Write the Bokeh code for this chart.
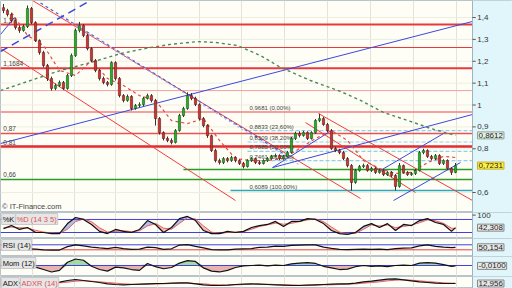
import numpy as np
from bokeh.plotting import figure
from bokeh.layouts import column
from bokeh.models import Range1d, FixedTicker, Label
from bokeh.core.properties import value
from bokeh.embed import file_html
from bokeh.resources import INLINE

FONT = "Liberation Sans"

# ---------------- data ----------------
opens = [1.445,1.432,1.414,1.386,1.354,1.341,1.359,1.441,1.377,1.295,
         1.240,1.181,1.121,1.076,1.089,1.103,1.076,1.135,1.226,1.341,
         1.363,1.318,1.258,1.203,1.158,1.121,1.103,1.094,1.194,1.121,
         1.043,1.021,1.039,0.984,0.998,1.002,1.030,1.043,1.021,0.938,
         0.874,0.847,0.838,0.829,0.883,0.952,0.984,1.043,1.030,1.002,
         0.938,0.906,0.860,0.792,0.746,0.737,0.755,0.746,0.760,0.746,
         0.733,0.719,0.746,0.755,0.737,0.733,0.746,0.755,0.765,0.769,
         0.755,0.765,0.783,0.847,0.870,0.861,0.874,0.847,0.874,0.929,
         0.938,0.911,0.883,0.801,0.792,0.783,0.755,0.723,0.646,0.701,
         0.719,0.723,0.701,0.710,0.692,0.701,0.682,0.692,0.678,0.628,
         0.723,0.692,0.682,0.687,0.701,0.783,0.792,0.765,0.755,0.769,
         0.733,0.746,0.710,0.692]
closes = [1.432,1.414,1.386,1.354,1.341,1.359,1.441,1.377,1.295,1.240,
          1.181,1.121,1.076,1.089,1.103,1.076,1.135,1.226,1.341,1.363,
          1.318,1.258,1.203,1.158,1.121,1.103,1.094,1.194,1.121,1.043,
          1.021,1.039,0.984,0.998,1.002,1.030,1.043,1.021,0.938,0.874,
          0.847,0.838,0.829,0.883,0.952,0.984,1.043,1.030,1.002,0.938,
          0.906,0.860,0.792,0.746,0.737,0.755,0.746,0.760,0.746,0.733,
          0.719,0.746,0.755,0.737,0.733,0.746,0.755,0.765,0.769,0.755,
          0.765,0.783,0.847,0.870,0.861,0.874,0.847,0.874,0.929,0.938,
          0.911,0.883,0.801,0.792,0.783,0.755,0.723,0.646,0.701,0.719,
          0.723,0.701,0.710,0.692,0.701,0.682,0.692,0.678,0.628,0.723,
          0.692,0.682,0.687,0.701,0.783,0.792,0.765,0.755,0.769,0.733,
          0.746,0.710,0.692,0.7231]
highs = [1.462,1.440,1.420,1.392,1.365,1.368,1.455,1.448,1.383,1.300,
         1.248,1.188,1.130,1.098,1.112,1.110,1.142,1.235,1.350,1.380,
         1.370,1.325,1.265,1.210,1.165,1.130,1.110,1.200,1.200,1.128,
         1.050,1.048,1.045,1.005,1.012,1.038,1.052,1.050,1.028,0.945,
         0.880,0.856,0.848,0.890,0.960,0.992,1.058,1.055,1.038,1.008,
         0.945,0.912,0.865,0.800,0.755,0.762,0.762,0.768,0.766,0.752,
         0.740,0.752,0.762,0.760,0.745,0.752,0.762,0.772,0.778,0.775,
         0.772,0.790,0.855,0.878,0.880,0.882,0.880,0.880,0.936,0.960,
         0.945,0.918,0.890,0.810,0.800,0.790,0.762,0.730,0.708,0.726,
         0.732,0.730,0.718,0.716,0.708,0.707,0.698,0.698,0.684,0.735,
         0.728,0.698,0.694,0.708,0.790,0.800,0.798,0.772,0.776,0.775,
         0.752,0.752,0.716,0.735]
lows = [1.420,1.405,1.378,1.345,1.330,1.335,1.352,1.370,1.288,1.230,
        1.172,1.110,1.066,1.068,1.082,1.068,1.070,1.128,1.220,1.332,
        1.310,1.250,1.195,1.150,1.112,1.095,1.085,1.088,1.112,1.035,
        1.012,1.015,0.975,0.978,0.990,0.995,1.025,1.012,0.906,0.865,
        0.838,0.830,0.820,0.824,0.878,0.945,0.978,1.022,0.995,0.930,
        0.898,0.850,0.785,0.738,0.728,0.730,0.738,0.740,0.738,0.726,
        0.710,0.714,0.740,0.730,0.726,0.728,0.740,0.750,0.760,0.748,
        0.750,0.760,0.778,0.840,0.852,0.855,0.840,0.842,0.868,0.922,
        0.905,0.875,0.795,0.785,0.775,0.748,0.715,0.609,0.640,0.695,
        0.712,0.695,0.694,0.685,0.686,0.675,0.676,0.670,0.609,0.622,
        0.686,0.676,0.676,0.680,0.696,0.775,0.758,0.748,0.748,0.726,
        0.726,0.704,0.680,0.688]

# long moving average (green dashed)
ma_x = [-0.75, 6.75, 14.25, 21.75, 29.25, 36.75, 41.75, 48.5, 53, 58.5,
        64.25, 69.25, 76.75, 84.25, 89.25, 95, 101.75, 106.75, 113]
ma_y = [1.066, 1.112, 1.158, 1.194, 1.235, 1.263, 1.277, 1.290, 1.286, 1.272,
        1.226, 1.172, 1.112, 1.062, 1.021, 0.966, 0.925, 0.893, 0.8612]
# short moving average (red dashed)
sma_x = [2, 6, 10, 14, 18, 22, 26, 30, 34, 38, 42, 46, 50, 54, 58,
         62, 66, 70, 74, 78, 82, 86, 90, 94, 98, 102, 106, 110, 113]
sma_y = [1.423, 1.318, 1.272, 1.158, 1.135, 1.203, 1.121, 1.089, 1.043, 1.021,
         0.929, 0.915, 0.938, 0.838, 0.755, 0.746, 0.746, 0.755, 0.801, 0.847,
         0.883, 0.838, 0.746, 0.710, 0.687, 0.692, 0.737, 0.765, 0.760]

# indicator sample positions (bar index)
ind_x = list(range(0, 113, 2)) + [113]
stoch_k = [38,52,34,43,20,20,15,15,61,89,80,57,25,15,34,25,20,34,75,57,
           20,43,84,94,75,29,15,15,25,20,25,43,52,57,71,48,71,71,84,80,
           61,29,15,11,20,48,61,43,61,29,57,52,75,84,66,57,25,42.308]
stoch_d = [40,45,42,40,30,22,18,16,35,70,82,70,42,22,25,28,24,28,50,62,
           40,35,62,88,82,50,22,16,20,22,24,35,48,55,63,58,62,70,78,82,
           70,45,22,14,16,35,55,50,55,42,48,54,65,78,74,62,40,38]
rsi = [36,36,37,38,36,30,28,28,55,70,62,52,45,40,50,40,33,35,52,48,
       33,38,68,72,58,45,32,30,30,35,38,40,50,52,60,58,66,68,70,69,
       52,42,33,32,34,36,33,35,32,40,44,45,62,70,58,52,48,50.154]
mom = [0.01,-0.02,-0.03,0.02,-0.04,-0.10,-0.16,-0.12,0.08,0.16,0.13,-0.02,-0.10,-0.14,-0.04,-0.06,-0.10,-0.12,0.05,-0.03,
       -0.08,-0.05,0.06,0.12,0.10,-0.06,-0.14,-0.16,-0.12,-0.05,-0.01,0.00,0.01,-0.01,0.01,0.00,0.04,0.06,0.07,0.05,
       -0.02,-0.06,-0.10,-0.09,-0.03,0.00,-0.02,-0.01,-0.03,0.00,0.01,0.00,0.06,0.07,0.06,0.02,-0.02,-0.0100]
adx = [16,15,14,14,13,14,15,17,22,25,22,19,16,12,10,9,10,11,12,13,
       13,14,15,15,12,9,7,7,8,10,11,12,11,10,9,8,7,7,8,9,
       10,11,12,12,14,18,20,23,26,27,24,21,18,16,14,13,13,12.956]
adxr = [15,15,15,14,14,14,14,15,17,20,21,20,18,16,14,12,11,10,11,11,
        12,13,13,14,13,12,10,9,8,9,10,11,11,11,10,9,9,8,8,8,
        9,9,10,11,12,14,16,18,21,23,24,23,21,19,17,15,14,14]

# horizontal levels
red_levels = [1.368, 1.263, 1.1684, 1.066, 0.9681, 0.87, 0.81]
green_levels = [0.66, 0.705]
green_start = [-0.75, 45]
fib_levels = [0.8833, 0.8309, 0.7885, 0.7461]
fib_start = 61
fib_text_levels = [0.9681, 0.8833, 0.8309, 0.7885, 0.7461, 0.6089]
fib_text = ["0,9681 (0,00%)", "0,8833 (23,60%)", "0,8309 (38,20%)",
            "0,7885 (50,00%)", "0,7461 (61,80%)", "0,6089 (100,00%)"]
fib_base = 0.6089
fib_base_start = 56.75
left_text = ["1,37", "1,1684", "0,87", "0,81", "0,66"]
left_text_levels = [1.368, 1.1684, 0.87, 0.81, 0.66]

# trend lines (bar index, price)
red_tl = dict(x0=[7.25, -0.75, 78.75, 75.5], y0=[1.4778, 1.2584, 0.9612, 0.920],
              x1=[89.25, 58.0, 117.25, 103.0], y1=[0.5727, 0.5635, 0.5635, 0.600])
blue_tl = dict(x0=[-0.75, 67.25, 67.25, 94.25, 97.5, -0.75],
               y0=[0.824, 0.714, 0.714, 0.7007, 0.5635, 1.3224],
               x1=[117.25, 117.25, 81.25, 110.0, 114.25, 2.75],
               y1=[1.382, 0.9567, 0.8744, 0.8698, 0.7372, 1.400])
blue_long_dash = dict(x0=[-0.75], y0=[1.2447], x1=[21.75], y1=[1.4778])
blue_dash_tl = dict(x0=[9.25], y0=[1.4664], x1=[71.75], y1=[0.7578])
lblue_dot_tl = dict(x0=[16.0], y0=[1.386], x1=[74.25], y1=[0.723])

grid_x = [7.25, 17.75, 28.0, 38.5, 49.0, 59.5, 70.25, 81.0, 91.75, 102.5, 113.25]
price_ticks = [0.6, 0.8, 0.9, 1.0, 1.1, 1.2, 1.3, 1.4]
price_tick_text = ["0,6", "0,8", "0,9", "1", "1,1", "1,2", "1,3", "1,4"]

# ---------------- figures ----------------
X0, X1 = -0.75, 117.25          # plotting area (bar index)
XE = X0 + 512 / 4.0             # right edge incl. price-scale strip
XR = Range1d(X0, XE)
BG = "#fefef6"
SIDE = "#e1f6fb"


def make_fig(h, y0, y1):
    f = figure(width=512, height=h, x_range=XR, y_range=Range1d(y0, y1),
               output_backend="svg", toolbar_location=None,
               min_border_left=0, min_border_right=0,
               min_border_top=0, min_border_bottom=0,
               background_fill_color=BG, border_fill_color=SIDE,
               outline_line_color="#b8c4cc")
    f.axis.visible = False
    f.xgrid.ticker = FixedTicker(ticks=grid_x)
    f.xgrid.grid_line_color = "#e4e4d6"
    f.ygrid.visible = False
    return f


def finish_fig(f, y0, y1, ticks=(), tick_text=()):
    # price-scale strip on the right
    f.quad(left=[X1], right=[XE], bottom=[y0], top=[y1], fill_color=SIDE,
           line_color=None)
    f.segment([X1], [y0], [X1], [y1], line_color="#9fb4c0", line_width=1)
    if ticks:
        f.segment([X1] * len(ticks), list(ticks), [X1 + 0.8] * len(ticks), list(ticks),
                  line_color="#555555", line_width=1)
        f.text(x=[X1 + 1.2] * len(ticks), y=list(ticks), text=list(tick_text),
               text_font=value(FONT), text_font_size="8px", text_color="#333333",
               text_baseline="middle")


def vbox(f, y, txt, fill, border="#888888", color="#222222"):
    f.add_layout(Label(x=X1, y=y, x_offset=5, text=txt, text_font=FONT,
                       text_font_size="8px", text_color=color,
                       text_baseline="middle", text_align="left",
                       background_fill_color=fill, border_line_color=border,
                       padding=1))


def fmt(v, d):
    return f"{v:.{d}f}".replace(".", ",")


def panel_label(f, x, y, txt, color):
    f.add_layout(Label(x=x, y=y, y_offset=-1, text=txt, text_font=FONT,
                       text_font_size="7.5px", text_color=color, text_baseline="top",
                       background_fill_color="#e6e6e6", border_line_color="#c8c8c8",
                       padding=1))


# main chart
ymax = 1.4778
ymin = ymax - 212 / 218.75
p = make_fig(212, ymin, ymax)
p.segment([X0] * len(price_ticks), price_ticks, [X1] * len(price_ticks), price_ticks,
          line_color="#ededdf", line_width=1)

red_w = [2, 1, 2, 1, 1.5, 1.5, 2.5]
red_c = ["#e8383c", "#e8383c", "#e8383c", "#f4a0a0", "#f08080", "#ec5050", "#e02c30"]
for lv, w, c in zip(red_levels, red_w, red_c):
    p.segment(X0, lv, X1, lv, line_color=c, line_width=w)
for lv, xs in zip(green_levels, green_start):
    p.segment(xs, lv, X1, lv, line_color="#2a9a2a", line_width=1.5)
p.segment(fib_base_start, fib_base, X1, fib_base, line_color="#30a8b8", line_width=1.5)
for lv in fib_levels:
    p.segment(fib_start, lv, X1, lv, line_color="#8fd0ee", line_width=1.2, line_dash="4 2")

p.segment(**red_tl, line_color="#f03c3c", line_width=1)
p.segment(**blue_dash_tl, line_color="#4a62d8", line_width=1.2, line_dash="3 3")
p.segment(**lblue_dot_tl, line_color="#b0bcf0", line_width=1.2, line_dash="2 3")
p.segment(**blue_long_dash, line_color="#3a48e0", line_width=1.5, line_dash="8 5")
p.segment(**blue_tl, line_color="#3a48e0", line_width=1)
p.line(ma_x, ma_y, line_color="#4a8a5a", line_width=1.4, line_dash="3 3")
p.line(sma_x, sma_y, line_color="#e84848", line_width=1.2, line_dash="3 3")

p.text(x=[fib_start + 0.5] * len(fib_text), y=fib_text_levels, text=fib_text,
       text_font=value(FONT), text_font_size="6px", text_color="#444444",
       text_baseline="bottom", y_offset=-1)
p.text(x=[X0 + 0.7] * len(left_text), y=left_text_levels, text=left_text,
       text_font=value(FONT), text_font_size="6.5px", text_color="#444444",
       text_baseline="bottom", y_offset=-2)
p.text(x=[X0 + 0.4], y=[ymax - 206 / 218.75], text=["\u00a9 IT-Finance.com"],
       text_font=value(FONT), text_font_size="7.5px", text_color="#444444",
       text_baseline="middle")

idx = np.arange(len(closes))
o = np.array(opens)
c = np.array(closes)
up = c >= o
p.segment(idx, highs, idx, lows, line_color="#333333", line_width=1)
p.vbar(x=idx[up], width=0.55, top=c[up], bottom=o[up], fill_color="#22b022",
       line_color="#205020", line_width=0.6)
p.vbar(x=idx[~up], width=0.55, top=o[~up], bottom=c[~up], fill_color="#d83028",
       line_color="#502020", line_width=0.6)

finish_fig(p, ymin, ymax, price_ticks, price_tick_text)
vbox(p, ma_y[-1], fmt(ma_y[-1], 4), "#e4eee6", "#8aa890")
vbox(p, closes[-1], fmt(closes[-1], 4), "#fff040", "#c8b020")

# stochastic
S0, S1 = -7.6, 112
ps = make_fig(26, S0, S1)
k = np.array(stoch_k, dtype=float)
d = np.array(stoch_d, dtype=float)
ps.varea(x=ind_x, y1=d, y2=np.maximum(k, d), fill_color="#8090e8", fill_alpha=0.6)
ps.varea(x=ind_x, y1=np.minimum(k, d), y2=d, fill_color="#f0a0a0", fill_alpha=0.7)
ps.segment([X0, X0], [80, 20], [X1, X1], [80, 20], line_color="#4040e0", line_width=1)
ps.line(ind_x, d, line_color="#e86060", line_width=1)
ps.line(ind_x, k, line_color="#111111", line_width=1.2)
finish_fig(ps, S0, S1, [100], ["100"])
panel_label(ps, X0 + 0.3, S1, "%K", "#111111")
panel_label(ps, X0 + 3.8, S1, "%D (14 3 5)", "#e05050")
vbox(ps, stoch_k[-1], fmt(stoch_k[-1], 3), "#e8e8e8")

# RSI
R0, R1 = -23.6, 120.4
pr = make_fig(18, R0, R1)
pr.segment([X0], [70], [X1], [70], line_color="#4040e0", line_width=1)
pr.segment([X0], [30], [X1], [30], line_color="#e84040", line_width=1)
pr.line(ind_x, rsi, line_color="#111111", line_width=1.2)
finish_fig(pr, R0, R1)
panel_label(pr, X0 + 0.3, R1, "RSI (14)", "#111111")
vbox(pr, rsi[-1], fmt(rsi[-1], 3), "#e8e8e8")

# Momentum
M0, M1 = -0.272, 0.222
pm = make_fig(20, M0, M1)
m = np.array(mom)
pm.varea(x=ind_x, y1=0, y2=np.maximum(m, 0), fill_color="#90d090", fill_alpha=0.8)
pm.varea(x=ind_x, y1=np.minimum(m, 0), y2=0, fill_color="#e0a0a0", fill_alpha=0.8)
pm.segment([X0], [0], [X1], [0], line_color="#4040e0", line_width=1)
pm.line(ind_x, mom, line_color="#111111", line_width=1.2)
finish_fig(pm, M0, M1)
panel_label(pm, X0 + 0.3, M1, "Mom (12)", "#111111")
vbox(pm, mom[-1], fmt(mom[-1], 4), "#e8e8e8")

# ADX
A0, A1 = -2, 34
pa = make_fig(12, A0, A1)
a1 = np.array(adx, dtype=float)
a2 = np.array(adxr, dtype=float)
pa.varea(x=ind_x, y1=a2, y2=np.maximum(a1, a2), fill_color="#8090e8", fill_alpha=0.6)
pa.varea(x=ind_x, y1=np.minimum(a1, a2), y2=a2, fill_color="#f0a0a0", fill_alpha=0.7)
pa.line(ind_x, adxr, line_color="#e86060", line_width=1)
pa.line(ind_x, adx, line_color="#111111", line_width=1.2)
finish_fig(pa, A0, A1)
panel_label(pa, X0 + 0.3, A1, "ADX", "#111111")
panel_label(pa, X0 + 5.0, A1, "ADXR (14)", "#e05050")
vbox(pa, adx[-1], fmt(adx[-1], 3), "#e8e8e8")

layout = column(p, ps, pr, pm, pa, spacing=0)
open("out.html", "w").write(file_html(layout, INLINE))
